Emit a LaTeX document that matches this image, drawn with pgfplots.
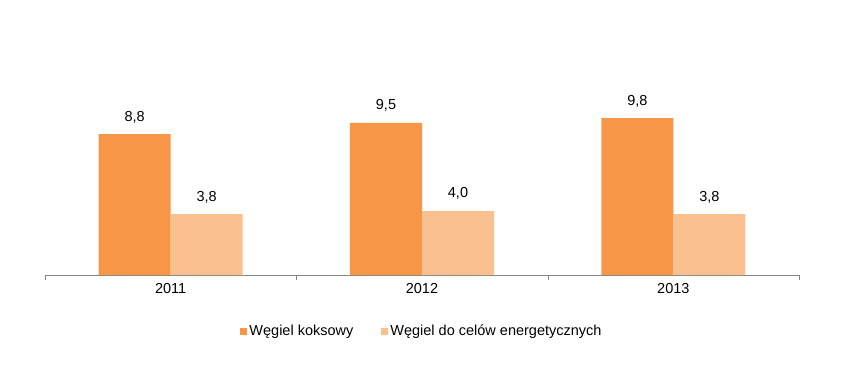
\documentclass[border=0pt]{standalone}
\usepackage{pgfplots}
\pgfplotsset{compat=1.18}
\usepackage{fontspec}
\setmainfont{Liberation Sans}
\definecolor{orA}{HTML}{F79646}
\definecolor{orB}{HTML}{FAC090}
\definecolor{axg}{HTML}{868686}
\begin{document}
\begin{tikzpicture}
\begin{axis}[
  scale only axis,
  width=754pt, height=224pt,
  xmin=-0.5, xmax=2.5, ymin=0, ymax=14,
  ybar=0pt, bar width=72pt,
  axis x line*=bottom, axis y line=none,
  axis line style={-, draw=axg},
  xtick={0,1,2}, xticklabels={2011,2012,2013},
  major tick length=0pt,
  extra x ticks={-0.5,0.5,1.5,2.5},
  extra x tick labels={},
  extra x tick style={major tick length=5pt, tick align=outside, tick style={draw=axg}},
  ytick=\empty,
  font=\fontsize{14.5}{17}\selectfont,
  /pgf/number format/assume math mode=true,
  xticklabel style={font=\fontsize{14.5}{17}\selectfont, text=black, yshift=-5pt},
  nodes near coords,
  nodes near coords style={font=\fontsize{14.5}{17}\selectfont, text=black, anchor=south, inner sep=2pt, yshift=9pt,
    /pgf/number format/.cd, fixed, fixed zerofill, precision=1, use comma},
  legend style={at={(0.5,-0.25)}, anchor=center, draw=none, legend columns=2,
    font=\fontsize{14.5}{17}\selectfont, inner sep=0pt,
    /tikz/every even column/.append style={column sep=26pt}},
  legend image code/.code={\fill[#1] (0pt,-3.5pt) rectangle (7pt,3.5pt);},
  clip=false,
]
\addplot[fill=orA, draw=none] coordinates {(0,8.8) (1,9.5) (2,9.8)};
\addplot[fill=orB, draw=none] coordinates {(0,3.8) (1,4.0) (2,3.8)};
\legend{Węgiel koksowy, Węgiel do celów energetycznych}
\end{axis}
\path (current axis.south west) ++(-45pt,-116pt) rectangle ++(844pt,391pt);
\end{tikzpicture}
\end{document}
